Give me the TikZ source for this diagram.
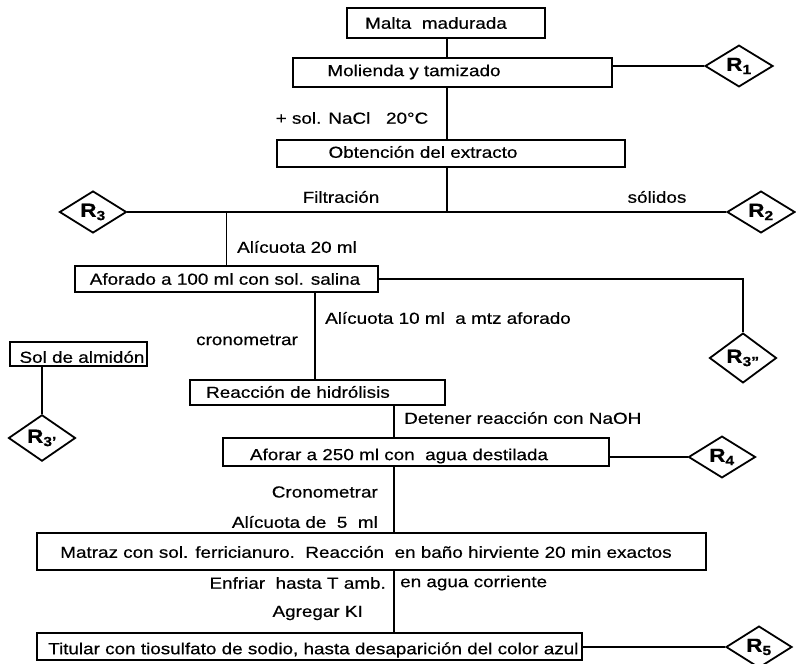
\documentclass[tikz,border=0pt]{standalone}
\usepackage{fontspec}
\setmainfont{Liberation Sans}[FakeStretch=1.18, FakeBold=0.5]
\usetikzlibrary{shapes.geometric}
\begin{document}
\begin{tikzpicture}[x=1pt,y=-1pt,
  box/.style={draw, line width=1.3pt, inner sep=0pt},
  txt/.style={inner sep=0pt, font=\fontsize{16}{18}\selectfont},
  dia/.style={draw, diamond, line width=1.8pt, inner sep=0pt, font=\fontsize{19}{21}\selectfont\bfseries},
  conn/.style={line width=1.1pt}]
\useasboundingbox (0,0) rectangle (796,664);
% column coordinates
\coordinate (col) at (394,0);
\coordinate (col1) at (447,0);
% boxes
\node[box, minimum width=198pt, minimum height=30pt] (malta) at (446,23) {};
\node[box, minimum width=319pt, minimum height=29pt] (molienda) at (452.5,72.5) {};
\node[box, minimum width=348pt, minimum height=27pt] (obt) at (451,153.5) {};
\node[box, minimum width=303pt, minimum height=26pt] (aforado) at (226.5,279) {};
\node[box, minimum width=137pt, minimum height=24pt] (sol) at (78.5,354) {};
\node[box, minimum width=255pt, minimum height=25pt] (reac) at (317.5,392.5) {};
\node[box, minimum width=386pt, minimum height=28pt] (af250) at (416,452) {};
\node[box, minimum width=669pt, minimum height=37pt] (matraz) at (371.5,551.5) {};
\node[box, minimum width=545pt, minimum height=27pt] (titular) at (309.5,646.5) {};
% diamonds
\node[dia, minimum width=68pt, minimum height=34pt] (r1) at (739,66) {R\textsubscript{1}};
\node[dia, minimum width=68pt, minimum height=39pt] (r2) at (761,212) {R\textsubscript{2}};
\node[dia, minimum width=67pt, minimum height=37pt] (r3) at (93,212) {R\textsubscript{3}};
\node[dia, minimum width=67pt, minimum height=39pt] (r3pp) at (743,358) {R\textsubscript{3''}};
\node[dia, minimum width=67pt, minimum height=37pt] (r3p) at (42,438) {R\textsubscript{3'}};
\node[dia, minimum width=67pt, minimum height=37pt] (r4) at (722,457) {R\textsubscript{4}};
\node[dia, minimum width=66pt, minimum height=37pt] (r5) at (759,647) {R\textsubscript{5}};
% texts
\node[txt] (tmalta) at (436,23) {Malta\ \ madurada};
\node[txt] (tmol) at (414,72) {Molienda y tamizado};
\node[txt] (tnacl) at (352,118) {+ sol. NaCl\ \ \ 20°C};
\node[txt] (tobt) at (423,152) {Obtención del extracto};
\node[txt] (tfil) at (341,197) {Filtración};
\node[txt] (tsol) at (657,197) {sólidos};
\node[txt, anchor=west] (tal20) at (237,247) {Alícuota 20 ml};
\node[txt] (tafo) at (225,279) {Aforado a 100 ml con sol. salina};
\node[txt, anchor=west] (tal10) at (325,318) {Alícuota 10 ml\ \ a mtz aforado};
\node[txt] (tcro) at (247,340) {cronometrar};
\node[txt] (tsolal) at (82,357) {Sol de almidón};
\node[txt] (treac) at (298,392) {Reacción de hidrólisis};
\node[txt, anchor=west] (tdet) at (404,418) {Detener reacción con NaOH};
\node[txt] (taf250) at (399,456) {Aforar a 250 ml con\ \ agua destilada};
\node[txt, anchor=east] (tcro2) at (378,492) {Cronometrar};
\node[txt, anchor=east] (tal5) at (378,522) {Alícuota de\ \ 5\ \ ml};
\node[txt] (tmat) at (366,552) {Matraz con sol. ferricianuro.\ \ Reacción\ \ en baño hirviente 20 min exactos};
\node[txt, anchor=east] (tenf) at (386,583) {Enfriar\ \ hasta T amb.};
\node[txt, anchor=west] (tagua) at (400,583) {en agua corriente};
\node[txt, anchor=east] (tki) at (363,613) {Agregar KI};
\node[txt, anchor=west] (ttit) at (48,650) {Titular con tiosulfato de sodio, hasta desaparición del color azul};
% connectors
\draw[conn] (malta.south -| col1) -- (molienda.north -| col1);
\draw[conn] (r1.west) -- (r1.west -| molienda.east);
\draw[conn] (molienda.south -| col1) -- (obt.north -| col1);
\draw[conn] (obt.south -| col1) -- (r2.west -| col1);
\draw[conn] (r3.east) -- (r2.west);
\draw[conn] (aforado.north) -- (aforado.north |- r3.east);
\draw[conn] (aforado.east) -| (r3pp.north);
\draw[conn] (reac.north -| tal10.west) ++(-10,0) coordinate (c315) -- (c315 |- aforado.south);
\draw[conn] (sol.south -| r3p.north) -- (r3p.north);
\draw[conn] (reac.south -| col) -- (af250.north -| col);
\draw[conn] (r4.west) -- (r4.west -| af250.east);
\draw[conn] (af250.south -| col) -- (matraz.north -| col);
\draw[conn] (matraz.south -| col) -- (titular.north -| col);
\draw[conn] (r5.west) -- (r5.west -| titular.east);
\end{tikzpicture}
\end{document}
